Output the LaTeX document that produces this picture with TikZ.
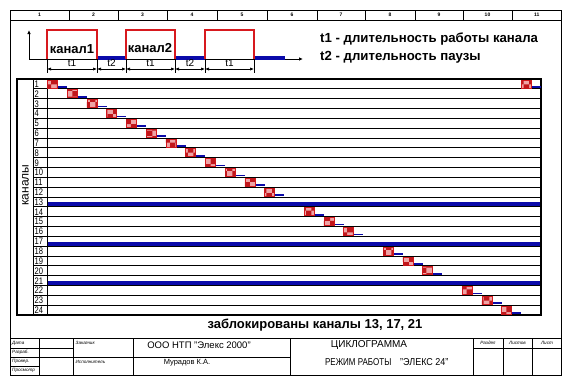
\documentclass[tikz,border=0pt]{standalone}
\usepackage{fontspec}
\setmainfont{Liberation Sans}
\usetikzlibrary{patterns,arrows.meta}
\definecolor{pred}{RGB}{215,25,30}
\definecolor{pblue}{RGB}{10,10,170}
\begin{document}
\begin{tikzpicture}[x=1pt,y=-1pt,
  thinline/.style={line width=0.8pt},
  rowline/.style={line width=0.9pt},
  pulse/.style={draw=pred,line width=1.7pt},
  pausebar/.style={draw=pblue,line width=1.8pt},
  cellbox/.style={draw=pred,line width=0.8pt,fill=pred!40,
    postaction={pattern=checkerboard,pattern color=pred!90!black},
    minimum width=10pt,minimum height=8pt,inner sep=0pt,anchor=north west},
  dimarrow/.style={{Latex[length=4pt,width=3.2pt]}-{Latex[length=4pt,width=3.2pt]},line width=0.7pt},
  tiny/.style={font=\fontsize{4.6}{5}\selectfont\itshape,inner sep=0.5pt},
  stripnum/.style={font=\fontsize{5}{6}\selectfont\bfseries,inner sep=0pt},
  rownum/.style={font=\fontsize{9.5}{9.5}\selectfont,inner sep=0pt,anchor=west,xscale=0.8},
  bigbold/.style={font=\fontsize{13}{15}\selectfont\bfseries,inner sep=0pt},
  legend/.style={font=\fontsize{13.2}{15}\selectfont\bfseries,inner sep=0pt,anchor=west},
  dimlabel/.style={font=\fontsize{10}{11}\selectfont,inner sep=0pt}]
\useasboundingbox[fill=white] (0,0) rectangle (571,386);

% ---------- frame and top strip
\draw[thinline] (10,10) rectangle (561.5,20);
\draw[thinline] (10,20) -- (10,375);
\draw[thinline] (561.5,20) -- (561.5,375);
\foreach \xa in {69,118,167,217,267,317,365,415,463,512}
  \draw[thinline] (\xa,10) -- (\xa,20);
\foreach \i/\xc in {1/39.5,2/93.5,3/142.5,4/192,5/242,6/292,7/341,8/390,9/439,10/487.5,11/536.75}
  \node[stripnum] (s\i) at (\xc,15) {\i};

% ---------- pulse diagram
\coordinate (o) at (29,59);
\coordinate (yend) at (29,30);
\coordinate (xend) at (303,59);
\draw[thinline,-{Latex[length=4pt,width=3.5pt]}] (o) -- (yend);
\draw[thinline,-{Latex[length=4pt,width=3.5pt]}] (o) -- (xend);
\fill[pblue] (97,55.5) rectangle (126,59.6);
\fill[pblue] (175,55.5) rectangle (205,59.6);
\fill[pblue] (254,55.5) rectangle (285,59.6);
\draw[pulse] (47,59) -- (47,30) -- (97,30) -- (97,59);
\draw[pulse] (126,59) -- (126,30) -- (175,30) -- (175,59);
\draw[pulse] (205,59) -- (205,30) -- (254,30) -- (254,59);
\node[bigbold] (k1) at (72,49) {канал1};
\node[bigbold] (k2) at (150,48) {канал2};
\foreach \i/\xa in {1/47,2/97,3/126,4/175,5/205,6/254}{
  \coordinate (ta\i) at (\xa,59);
  \coordinate (tb\i) at (\xa,73);
  \coordinate (td\i) at (\xa,69);
  \draw[line width=0.7pt] (ta\i) -- (tb\i);
}
\foreach \a/\b/\t in {1/2/t1,2/3/t2,3/4/t1,4/5/t2,5/6/t1}{
  \draw[dimarrow] (td\a) -- (td\b);
  \path (td\a) -- (td\b) node[midway,dimlabel,yshift=5.5pt] (dl\a) {\t};
}
\node[legend] (lg1) at (320,39) {t1 - длительность работы канала};
\node[legend] (lg2) at (320,57) {t2 - длительность паузы};

% ---------- cyclogram grid
\foreach \k in {13,17,21}{
  \pgfmathsetmacro\yt{79+(\k-1)*9.8333}
  \fill[pblue] (47,\yt+5.3) rectangle (541,\yt+9.9);
}
\foreach \k in {1,...,23}{
  \pgfmathsetmacro\yl{79+\k*9.8333}
  \draw[rowline] (33,\yl) -- (541,\yl);
}
\draw[line width=1pt] (33,79) -- (33,315);
\draw[line width=1pt] (47,79) -- (47,315);
\draw[line width=2.2pt] (17,79) rectangle (541,315);
\foreach \k in {1,...,24}{
  \pgfmathsetmacro\yc{79+(\k-1)*9.8333+5.1}
  \node[rownum] (n\k) at (34.5,\yc) {\k};
}
\node[font=\fontsize{12}{12}\selectfont,rotate=90,inner sep=0pt] (kan) at (25.5,185) {каналы};
\foreach \k in {1,...,12,14,15,16,18,19,20,22,23,24,25}{
  \pgfmathtruncatemacro\r{mod(\k-1,24)+1}
  \pgfmathsetmacro\xs{47+(\k-1)*19.75}
  \pgfmathsetmacro\yt{79+(\r-1)*9.8333}
  \draw[pausebar] (\xs+10,\yt+7.9) -- (\xs+20,\yt+7.9);
  \node[cellbox] (b\k) at (\xs,\yt+0.6) {};
}
\node[bigbold] (blk) at (315,325) {заблокированы каналы 13, 17, 21};

% ---------- title block
\draw[line width=1pt] (10,338) rectangle (561.5,375);
\foreach \xa in {39,73,133,290,473,503,532}
  \draw[thinline] (\xa,338) -- (\xa,375);
\draw[thinline] (10,348) -- (73,348);
\draw[thinline] (10,357) -- (290,357);
\draw[thinline] (10,366) -- (39,366);
\draw[thinline] (473,348) -- (561.5,348);
\node[tiny,anchor=west] (d1) at (11.5,343) {Дата};
\node[tiny,anchor=west] (d2) at (11.5,352.5) {Разраб.};
\node[tiny,anchor=west] (d3) at (11.5,361.5) {Провер.};
\node[tiny,anchor=west] (d4) at (11.5,370.5) {Просмотр};
\node[tiny,anchor=west] (zk) at (75,342.5) {Заказчик};
\node[tiny,anchor=west] (isp) at (75,361.5) {Исполнитель};
\node[font=\fontsize{9.5}{10}\selectfont,inner sep=0pt] (org) at (199,345) {ООО НТП "Элекс 2000"};
\node[font=\fontsize{7.5}{8}\selectfont,inner sep=0pt] (mur) at (187,363) {Мурадов К.А.};
\node[font=\fontsize{10}{11}\selectfont,inner sep=0pt] (cyc) at (369,345) {ЦИКЛОГРАММА};
\node[font=\fontsize{10}{11}\selectfont,inner sep=0pt,anchor=west,xscale=0.8] (rr) at (325,362) {РЕЖИМ РАБОТЫ};
\node[font=\fontsize{10}{11}\selectfont,inner sep=0pt,anchor=west,xscale=0.9] (el) at (400,362) {"ЭЛЕКС 24"};
\node[tiny] (rz) at (488,342.5) {Раздел};
\node[tiny] (ls) at (517.5,342.5) {Листов};
\node[tiny] (l) at (547,342.5) {Лист};
\end{tikzpicture}
\end{document}
